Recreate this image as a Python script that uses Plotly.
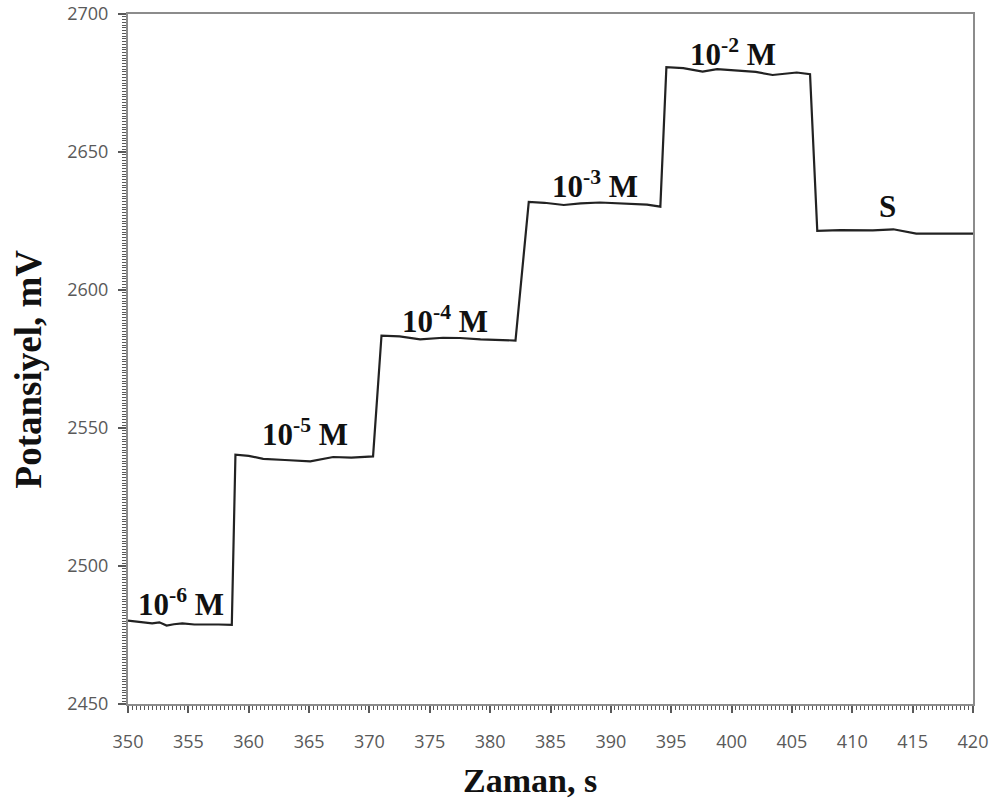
import plotly.graph_objects as go

# Data (time in s, potential in mV)
time_s = [350.0, 351.0, 352.0, 352.6, 353.2, 353.8, 354.5, 355.5, 356.5, 357.5, 358.6,
          358.9, 360.0, 361.2, 363.0, 365.1, 367.0, 368.5, 370.3,
          371.0, 372.5, 374.2, 376.1, 377.5, 379.2, 380.8, 382.1,
          383.2, 384.5, 386.1, 387.5, 389.1, 390.5, 391.8, 393.0, 394.1,
          394.6, 396.0, 397.6, 398.8, 400.9, 402.0, 403.4, 405.4, 406.5,
          407.1, 409.0, 411.7, 413.4, 415.3, 417.5, 420.0]
potential_mv = [2480.2, 2479.8, 2479.2, 2479.6, 2478.4, 2478.9, 2479.2, 2478.8, 2478.9, 2478.8, 2478.7,
                2540.3, 2539.9, 2538.8, 2538.4, 2537.9, 2539.5, 2539.3, 2539.7,
                2583.5, 2583.2, 2582.1, 2582.7, 2582.6, 2582.1, 2581.9, 2581.7,
                2631.9, 2631.6, 2630.8, 2631.4, 2631.7, 2631.5, 2631.1, 2630.9, 2630.2,
                2680.7, 2680.4, 2679.1, 2680.0, 2679.4, 2679.0, 2677.9, 2678.8, 2678.2,
                2621.4, 2621.7, 2621.6, 2622.0, 2620.4, 2620.4, 2620.4]

label_text = ["10<sup>-6</sup> M", "10<sup>-5</sup> M", "10<sup>-4</sup> M",
              "10<sup>-3</sup> M", "10<sup>-2</sup> M", "S"]
label_x = [354.4, 364.7, 376.3, 388.7, 400.1, 412.9]
label_y = [2486.7, 2548.3, 2589.3, 2638.3, 2686.1, 2630.4]

x_ticks = list(range(350, 421, 5))
y_ticks = list(range(2450, 2701, 50))

fig = go.Figure()
fig.add_trace(go.Scatter(x=time_s, y=potential_mv, mode="lines",
                         line=dict(color="#222222", width=2.2), showlegend=False,
                         hoverinfo="skip"))

for t, lx, ly in zip(label_text, label_x, label_y):
    fig.add_annotation(x=lx, y=ly, text="<b>" + t + "</b>", showarrow=False,
                       xanchor="center", yanchor="middle",
                       font=dict(family="Liberation Serif", size=31, color="#111111"))

fig.add_annotation(xref="paper", yref="paper", x=0.4757, y=-0.1103,
                   text="<b>Zaman, s</b>", showarrow=False, xanchor="center", yanchor="middle",
                   font=dict(family="Liberation Serif", size=34, color="#111111"))
fig.add_annotation(xref="paper", yref="paper", x=-0.1183, y=0.485,
                   text="<b>Potansiyel, mV</b>", showarrow=False, textangle=-90,
                   xanchor="center", yanchor="middle",
                   font=dict(family="Liberation Serif", size=37, color="#111111"))

axis_common = dict(showgrid=False, zeroline=False, mirror=True, automargin=False,
                   linecolor="#8c8c8c", linewidth=2, ticks="outside",
                   tickcolor="#595959", tickwidth=1.5, ticklabeloverflow="allow",
                   tickfont=dict(family="Open Sans", size=18, color="#595959"))

fig.update_xaxes(range=[350, 420], tickvals=x_ticks, ticklen=7,
                 ticklabelstandoff=13,
                 minor=dict(dtick=1/3, tick0=350, ticks="outside", ticklen=4,
                            tickcolor="#595959", tickwidth=1.2),
                 **axis_common)
fig.update_yaxes(range=[2450, 2700], tickvals=y_ticks, ticklen=8,
                 ticklabelstandoff=6,
                 minor=dict(dtick=1, tick0=2450, ticks="outside", ticklen=4,
                            tickcolor="#595959", tickwidth=1.2),
                 **axis_common)

fig.update_layout(width=995, height=807, autosize=False,
                  margin=dict(l=128, r=22, t=14, b=103),
                  paper_bgcolor="white", plot_bgcolor="white")

fig.write_html("out.html")
